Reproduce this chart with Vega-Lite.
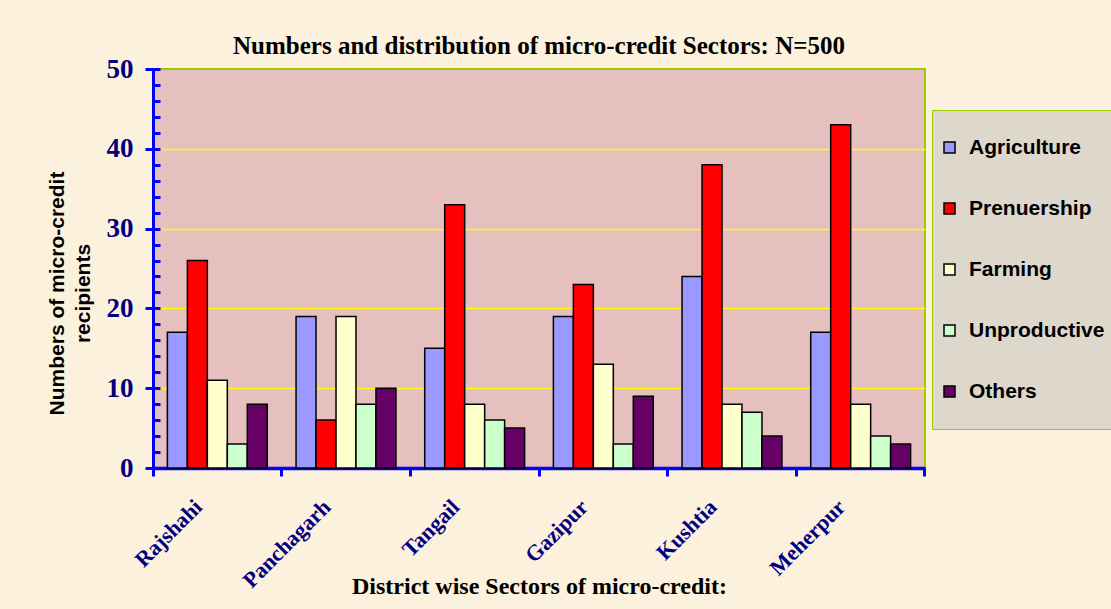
{
  "$schema": "https://vega.github.io/schema/vega-lite/v6.json",
  "width": 772,
  "height": 399,
  "autosize": {"type": "none"},
  "padding": {"left": 153, "top": 69, "right": 186, "bottom": 141},
  "background": "#FCF1DC",
  "title": {
    "text": "Numbers and distribution of micro-credit  Sectors: N=500",
    "font": "Liberation Serif",
    "fontSize": 25,
    "fontWeight": "bold",
    "color": "#000000",
    "anchor": "middle",
    "offset": -4
  },
  "config": {
    "view": {"fill": "#E6BFBF", "stroke": "#99CC00", "strokeWidth": 2},
    "legend": {
      "orient": "none",
      "legendX": 779,
      "legendY": 41,
      "fillColor": "#DDD7CC",
      "strokeColor": "#99CC00",
      "padding": 7,
      "clipHeight": 61,
      "rowPadding": 0,
      "symbolType": "square",
      "symbolSize": 121,
      "symbolStrokeColor": "#000000",
      "symbolStrokeWidth": 1.5,
      "labelFont": "Liberation Sans",
      "labelFontSize": 21,
      "labelFontWeight": "bold",
      "labelColor": "#000000",
      "labelOffset": 9,
      "title": null
    }
  },
  "data": {
    "values": [
      {"district": "Rajshahi", "sector": "Agriculture", "value": 17},
      {"district": "Rajshahi", "sector": "Prenuership", "value": 26},
      {"district": "Rajshahi", "sector": "Farming", "value": 11},
      {"district": "Rajshahi", "sector": "Unproductive", "value": 3},
      {"district": "Rajshahi", "sector": "Others", "value": 8},
      {"district": "Panchagarh", "sector": "Agriculture", "value": 19},
      {"district": "Panchagarh", "sector": "Prenuership", "value": 6},
      {"district": "Panchagarh", "sector": "Farming", "value": 19},
      {"district": "Panchagarh", "sector": "Unproductive", "value": 8},
      {"district": "Panchagarh", "sector": "Others", "value": 10},
      {"district": "Tangail", "sector": "Agriculture", "value": 15},
      {"district": "Tangail", "sector": "Prenuership", "value": 33},
      {"district": "Tangail", "sector": "Farming", "value": 8},
      {"district": "Tangail", "sector": "Unproductive", "value": 6},
      {"district": "Tangail", "sector": "Others", "value": 5},
      {"district": "Gazipur", "sector": "Agriculture", "value": 19},
      {"district": "Gazipur", "sector": "Prenuership", "value": 23},
      {"district": "Gazipur", "sector": "Farming", "value": 13},
      {"district": "Gazipur", "sector": "Unproductive", "value": 3},
      {"district": "Gazipur", "sector": "Others", "value": 9},
      {"district": "Kushtia", "sector": "Agriculture", "value": 24},
      {"district": "Kushtia", "sector": "Prenuership", "value": 38},
      {"district": "Kushtia", "sector": "Farming", "value": 8},
      {"district": "Kushtia", "sector": "Unproductive", "value": 7},
      {"district": "Kushtia", "sector": "Others", "value": 4},
      {"district": "Meherpur", "sector": "Agriculture", "value": 17},
      {"district": "Meherpur", "sector": "Prenuership", "value": 43},
      {"district": "Meherpur", "sector": "Farming", "value": 8},
      {"district": "Meherpur", "sector": "Unproductive", "value": 4},
      {"district": "Meherpur", "sector": "Others", "value": 3}
    ]
  },
  "resolve": {"axis": {"x": "independent", "y": "independent"}},
  "layer": [
    {
      "mark": {"type": "bar", "stroke": "#000000", "strokeWidth": 1.5},
      "encoding": {
        "x": {
          "field": "district",
          "type": "nominal",
          "sort": ["Rajshahi", "Panchagarh", "Tangail", "Gazipur", "Kushtia", "Meherpur"],
          "scale": {"paddingInner": 0, "paddingOuter": 0},
          "axis": {
            "title": "District wise Sectors of micro-credit:",
            "titleFont": "Liberation Serif",
            "titleFontSize": 24,
            "titleFontWeight": "bold",
            "titleColor": "#000000",
            "titleY": 125,
            "titleBaseline": "alphabetic",
            "domainColor": "#0000FF",
            "domainWidth": 3.5,
            "tickColor": "#0000FF",
            "tickWidth": 3,
            "tickSize": 8,
            "bandPosition": 1,
            "tickExtra": true,
            "labelAngle": -45,
            "labelFont": "Liberation Serif",
            "labelFontSize": 22,
            "labelFontWeight": "bold",
            "labelColor": "#000080",
            "labelPadding": 20,
            "labelOffset": -26,
            "grid": false
          }
        },
        "xOffset": {
          "field": "sector",
          "type": "nominal",
          "sort": ["Agriculture", "Prenuership", "Farming", "Unproductive", "Others"],
          "scale": {"paddingInner": 0, "paddingOuter": 0.72}
        },
        "y": {
          "field": "value",
          "type": "quantitative",
          "scale": {"domain": [0, 50], "nice": false},
          "axis": {
            "title": ["Numbers of micro-credit", "recipients"],
            "titleFont": "Liberation Sans",
            "titleFontSize": 21,
            "titleFontWeight": "bold",
            "titleColor": "#000000",
            "titleLineHeight": 26,
            "titleX": -96,
            "titleY": 224,
            "titleAngle": -90,
            "titleAlign": "center",
            "titleBaseline": "middle",
            "values": [0, 10, 20, 30, 40, 50],
            "domainColor": "#0000FF",
            "domainWidth": 3,
            "tickColor": "#0000FF",
            "tickWidth": 3,
            "tickSize": 8,
            "labelFont": "Liberation Serif",
            "labelFontSize": 27,
            "labelFontWeight": "bold",
            "labelColor": "#000080",
            "labelPadding": 12,
            "grid": true,
            "gridColor": {
              "condition": {"test": "datum.value === 0 || datum.value === 50", "value": "transparent"},
              "value": "#FFFF00"
            },
            "gridWidth": 1.5
          }
        },
        "color": {
          "field": "sector",
          "type": "nominal",
          "sort": ["Agriculture", "Prenuership", "Farming", "Unproductive", "Others"],
          "scale": {
            "domain": ["Agriculture", "Prenuership", "Farming", "Unproductive", "Others"],
            "range": ["#9999FF", "#FF0000", "#FFFFCC", "#CCFFCC", "#660066"]
          }
        }
      }
    },
    {
      "mark": {"type": "point", "opacity": 0},
      "encoding": {
        "x": {
          "field": "district",
          "type": "nominal",
          "sort": ["Rajshahi", "Panchagarh", "Tangail", "Gazipur", "Kushtia", "Meherpur"],
          "axis": {
            "orient": "bottom",
            "title": null,
            "labels": false,
            "domain": false,
            "grid": false,
            "bandPosition": 0.5,
            "tickColor": "#0000FF",
            "tickWidth": 3,
            "tickSize": -5
          }
        },
        "y": {
          "field": "value",
          "type": "quantitative",
          "axis": {
            "orient": "left",
            "title": null,
            "labels": false,
            "domain": false,
            "grid": false,
            "values": [0, 2, 4, 6, 8, 10, 12, 14, 16, 18, 20, 22, 24, 26, 28, 30, 32, 34, 36, 38, 40, 42, 44, 46, 48, 50],
            "tickColor": "#0000FF",
            "tickWidth": 3,
            "tickSize": -7
          }
        }
      }
    }
  ]
}
